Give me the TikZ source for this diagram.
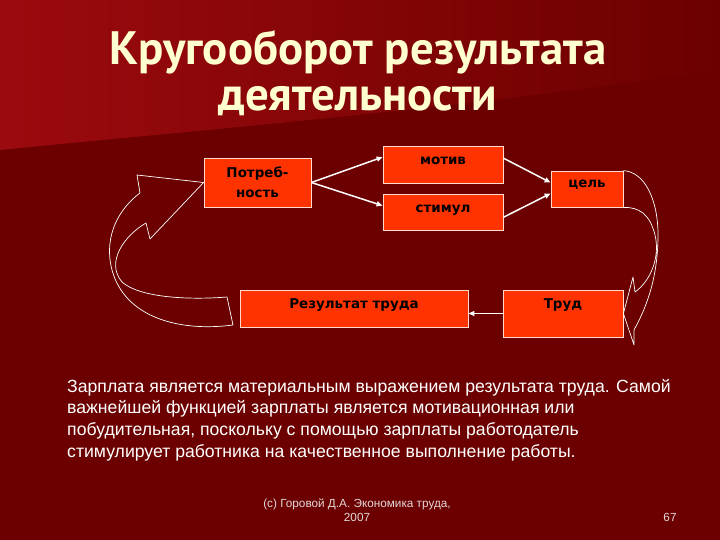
\documentclass[tikz,border=0pt]{standalone}
\usepackage{fontspec}
\setmainfont{Liberation Sans}
\newfontfamily\boxfont{DejaVu Sans}
\newfontfamily\titlefont{PT Sans}
\usetikzlibrary{arrows.meta}

\definecolor{bgred}{RGB}{108,0,0}
\definecolor{topred}{RGB}{155,10,14}
\definecolor{boxred}{RGB}{255,51,0}
\definecolor{titlecream}{RGB}{255,255,208}
\definecolor{edgepink}{RGB}{255,220,205}
\definecolor{footgray}{RGB}{225,215,215}

\begin{document}
\begin{tikzpicture}[x=1bp, y=-1bp,
  box/.style={draw=edgepink, line width=0.8bp, fill=boxred, inner sep=0pt,
              align=center, font=\boxfont\bfseries\fontsize{13.5}{20}\selectfont},
  onerow/.style={box, text height=10bp, text depth=#1},
  arr/.style={draw=white, line width=1.5bp, -{Triangle[length=6bp, width=5bp]}},
  band/.style={draw=white, line width=0.7bp, line join=round}
]
  % Background
  \useasboundingbox (0,0) rectangle (720,540);
  \fill[bgred] (0,0) rectangle (720,540);
  \shade[left color=topred, right color=bgred]
    (0,0) -- (720,0) -- (720,70) .. controls (450,110) and (200,130) .. (0,150) -- cycle;

  % Title
  \node[text=titlecream, font=\titlefont\bfseries\fontsize{47}{46}\selectfont, align=center]
    (title) at (358,73) {Кругооборот результата\\деятельности};

  % Boxes
  \node[box, minimum width=107bp, minimum height=49bp] (need)   at (257.5,182.5) {Потреб-\\ность};
  \node[onerow=9bp,  minimum width=120bp, minimum height=37bp] (motiv)  at (443,164.5) {мотив};
  \node[onerow=8bp,  minimum width=120bp, minimum height=36bp] (stimul) at (443,212) {стимул};
  \node[onerow=12bp, minimum width=72bp,  minimum height=36bp] (goal)   at (587,189) {цель};
  \node[onerow=11bp, minimum width=228bp, minimum height=37bp] (result) at (354,308.5) {Результат труда};
  \node[onerow=20bp, minimum width=120bp, minimum height=47bp] (labour) at (563,313.5) {Труд};

  % Straight arrows
  \draw[arr] (need.east) -- (motiv.173.8);
  \draw[arr] (need.east) -- (stimul.174.3);
  \draw[arr] (motiv.6.2) -- (goal.170.5);
  \draw[arr] (stimul.-5.7) -- (goal.187.9);
  \draw[arr] (labour.west) -- (labour.west -| result.east);

  % Curved block arrows
  \draw[band] (227,297) -- (233,325)
    .. controls (180,332) and (125,318) .. (112,270)
    .. controls (103,235) and (120,208) .. (140,193)
    -- (137,175) -- (need.west) -- (150,239) -- (146,223)
    .. controls (125,235) and (105,262) .. (122,282)
    .. controls (140,298) and (190,300) .. (227,297) -- cycle;
  \draw[band] (goal.north east)
    .. controls (645,172) and (658,200) .. (658,235)
    .. controls (658,280) and (645,310) .. (634,330)
    -- (634,345) -- (labour.east) -- (633,277) -- (635,292)
    .. controls (652,280) and (660,255) .. (655,235)
    .. controls (650,215) and (640,207) .. (goal.south east);

  % Text below
  \node[text=white, anchor=north west, align=left, inner sep=0pt,
        font=\fontsize{17.7}{21.7}\selectfont] (note) at (67,379)
    {Зарплата является материальным выражением результата труда. Самой\\
     важнейшей функцией зарплаты является мотивационная или\\
     побудительная, поскольку с помощью зарплаты работодатель\\
     стимулирует работника на качественное выполнение работы.};

  % Footer
  \node[text=footgray, align=center, font=\fontsize{11.8}{14}\selectfont] (foot) at (357,510)
    {(c) Горовой Д.А. Экономика труда,\\2007};
  \node[text=footgray, font=\fontsize{11.8}{14}\selectfont] (page) at (670,517) {67};
\end{tikzpicture}
\end{document}
